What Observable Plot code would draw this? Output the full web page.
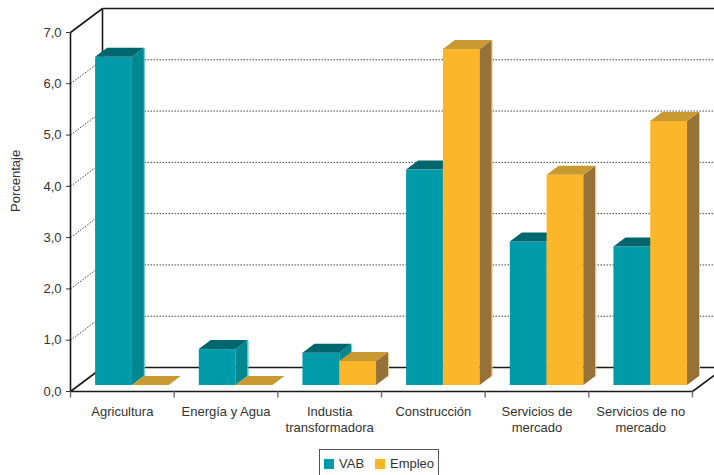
<!DOCTYPE html>
<html>
<head>
<meta charset="utf-8">
<script src="https://cdn.jsdelivr.net/npm/d3@7"></script>
<script src="https://cdn.jsdelivr.net/npm/@observablehq/plot@0.6"></script>
<style>
  html, body { margin: 0; padding: 0; background: #fff; overflow: hidden; }
  #wrap { position: relative; width: 714px; height: 475px; font-family: "Liberation Sans", Arial, sans-serif; }
  #wrap svg { overflow: hidden; }
  .legend { position: absolute; left: 319px; top: 449px; width: 120px; height: 30px; border: 1px solid #555;
            box-sizing: border-box; font-size: 13px; color: #333; }
  .legend span { position: absolute; }
  .sw { width: 10px; height: 10px; top: 9px; }
</style>
</head>
<body>
<div id="wrap"></div>
<script>
// Sectors on the category axis ("\n" splits a label over two lines)
const categories = ["Agricultura", "Energía y Agua", "Industia\ntransformadora", "Construcción", "Servicios de\nmercado", "Servicios de no\nmercado"];
// Percentage by sector
const vab    = [6.4, 0.7, 0.63, 4.2, 2.8, 2.7];
const empleo = [0, 0, 0.47, 6.55, 4.1, 5.15];
const seriesNames = ["VAB", "Empleo"];
const yTicks = [0, 1, 2, 3, 4, 5, 6, 7];

// Face colours: front, top, side, edge highlight
const palette = {
  VAB:    {front: "#009ba8", top: "#00666d", side: "#00878f", edge: "#67c3c9"},
  Empleo: {front: "#fbb629", top: "#c99a32", side: "#967238", edge: "#e3cc98"}
};

// Oblique depth of the box, in scale units (x: one band, y: one percent)
const DX = 32 / 103.67, DY = 24 / 51.29;
const Z0 = 0.25, Z1 = 0.625;      // bars sit between these depth fractions
const OFF = 0.165, W = 0.355;     // bar offset and width inside a band

const bars = seriesNames.map((s, si) =>
  categories.map((c, i) => {
    const v = (si === 0 ? vab : empleo)[i];
    const xl = i + OFF + si * W;
    return {id: s + i, s, v, xl, xr: xl + W};
  })
);

const px = (x, z) => x + z * DX;
const py = (y, z) => y + z * DY;

function barMarks(data) {
  const c = palette[data[0].s];
  const tops = data.flatMap(b => [
    {id: b.id, y: py(b.v, Z0), x1: px(b.xl, Z0), x2: px(b.xr, Z0)},
    {id: b.id, y: py(b.v, Z1), x1: px(b.xl, Z1), x2: px(b.xr, Z1)}
  ]);
  const sides = data.filter(b => b.v > 0).flatMap(b => [
    {id: b.id, x: px(b.xr, Z0), y1: py(0, Z0), y2: py(b.v, Z0)},
    {id: b.id, x: px(b.xr, Z1), y1: py(0, Z1), y2: py(b.v, Z1)}
  ]);
  return [
    Plot.rect(data.filter(b => b.v > 0), {
      x1: b => px(b.xl, Z0), x2: b => px(b.xr, Z0),
      y1: () => py(0, Z0), y2: b => py(b.v, Z0), fill: c.front
    }),
    Plot.areaY(sides, {x: "x", y1: "y1", y2: "y2", z: "id", fill: c.side}),
    Plot.link(data.filter(b => b.v > 0), {
      x1: b => px(b.xr, Z1), x2: b => px(b.xr, Z1),
      y1: () => py(0, Z1), y2: b => py(b.v, Z1), stroke: c.edge, strokeWidth: 1
    }),
    Plot.areaX(tops, {y: "y", x1: "x1", x2: "x2", z: "id", fill: c.top})
  ];
}

const n = categories.length;
const frame = [
  {x1: 0, y1: 0, x2: 0, y2: 7},
  {x1: 0, y1: 7, x2: DX, y2: 7 + DY},
  {x1: DX, y1: 7 + DY, x2: n + DX, y2: 7 + DY},
  {x1: DX, y1: DY, x2: DX, y2: 7 + DY},
  {x1: DX, y1: DY, x2: n + DX, y2: DY},
  {x1: 0, y1: 0, x2: DX, y2: DY},
  {x1: 0, y1: 0, x2: n, y2: 0},
  {x1: n, y1: 0, x2: n + DX, y2: DY}
];
const gridLevels = yTicks.filter(t => t > 0 && t < 7);
const bounds = d3.range(n + 1);
const fmt = d => d.toFixed(1).replace(".", ",");

const chart = Plot.plot({
  width: 714,
  height: 447,
  marginLeft: 70,
  marginRight: 22,
  marginTop: 32,
  marginBottom: 56,
  style: {fontFamily: "'Liberation Sans', Arial, sans-serif", fontSize: "13px", color: "#333", background: "#fff"},
  x: {domain: [0, n], axis: null},
  y: {domain: [0, 7], ticks: yTicks, tickFormat: fmt, tickSize: 4, tickPadding: 5, label: null},
  marks: [
    // dotted grid on the back wall and the left wall
    Plot.link(gridLevels, {x1: () => DX, x2: () => n + DX, y1: t => t + DY, y2: t => t + DY,
      stroke: "#444", strokeWidth: 1, strokeDasharray: "1.5,1.5"}),
    Plot.link(gridLevels, {x1: () => 0, x2: () => DX, y1: t => t, y2: t => t + DY,
      stroke: "#444", strokeWidth: 1, strokeDasharray: "1.5,1.5"}),
    // box outline
    Plot.link(frame, {x1: "x1", y1: "y1", x2: "x2", y2: "y2", stroke: "#1a1a1a", strokeWidth: 1.6}),
    // category ticks under the baseline
    Plot.link(bounds, {x1: d => d, x2: d => d, y1: () => 0, y2: () => -6 / 51.29, stroke: "#777", strokeWidth: 1.5}),
    ...barMarks(bars[0]),
    ...barMarks(bars[1]),
    Plot.text(categories, {x: (d, i) => i + 0.5, y: () => 0, text: d => d, lineAnchor: "top", dy: 12,
      lineHeight: 1.3, fontSize: 13, fill: "#333"}),
    Plot.text(["Porcentaje"], {frameAnchor: "left", dx: -55, rotate: -90, fontSize: 13, fill: "#333"})
  ]
});

const wrap = document.getElementById("wrap");
wrap.appendChild(chart);

// legend below the chart
const legend = document.createElement("div");
legend.className = "legend";
legend.innerHTML =
  `<span class="sw" style="left:4px;background:${palette.VAB.front}"></span>` +
  `<span style="left:19px;top:6px">${seriesNames[0]}</span>` +
  `<span class="sw" style="left:55px;background:${palette.Empleo.front}"></span>` +
  `<span style="left:70px;top:6px">${seriesNames[1]}</span>`;
wrap.appendChild(legend);
</script>
</body>
</html>
